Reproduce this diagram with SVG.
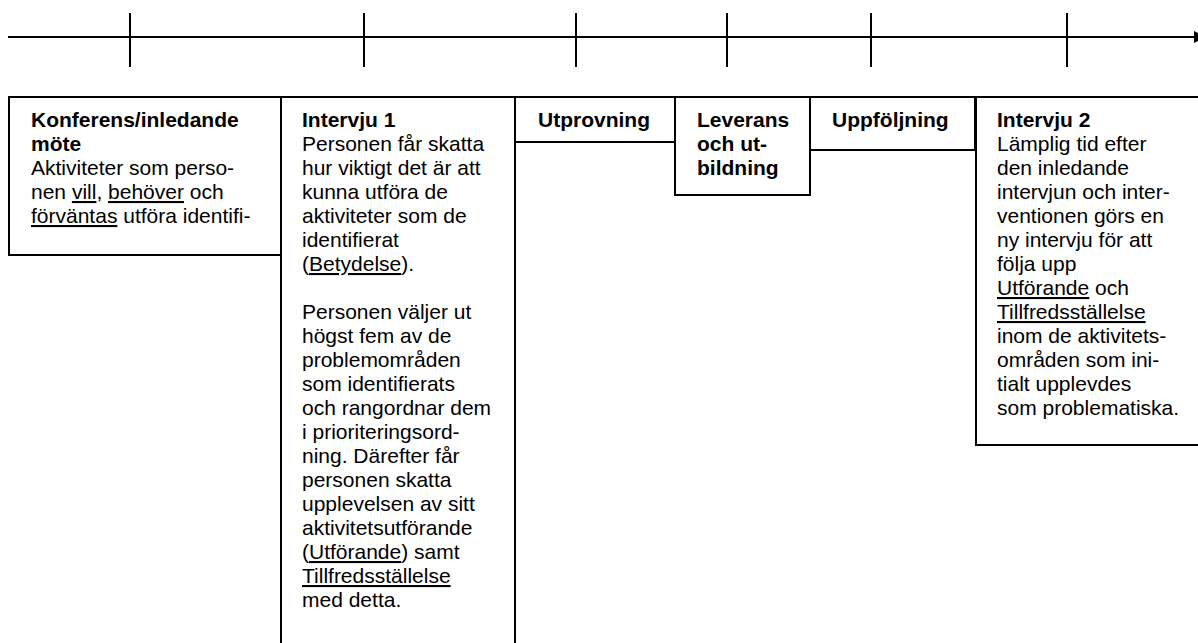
<svg xmlns="http://www.w3.org/2000/svg" width="1198" height="643" viewBox="0 0 1198 643">
<style>
.box{fill:#fff;stroke:#000;stroke-width:2}
.ax{stroke:#000;stroke-width:2;fill:none}
text{font-family:"Liberation Sans",Arial,sans-serif;font-size:21px;fill:#000}
.b{font-weight:bold}
.u{text-decoration:underline}
</style>
<rect width="1198" height="643" fill="#fff"/>
<g id="connectors">
<line class="ax" x1="8" y1="37" x2="1195" y2="37"/>
<polygon points="1194,31 1194,43 1206,37" fill="#000"/>
<line class="ax" x1="130" y1="13" x2="130" y2="67"/>
<line class="ax" x1="364" y1="13" x2="364" y2="67"/>
<line class="ax" x1="576" y1="13" x2="576" y2="67"/>
<line class="ax" x1="727" y1="13" x2="727" y2="67"/>
<line class="ax" x1="871" y1="13" x2="871" y2="67"/>
<line class="ax" x1="1067" y1="13" x2="1067" y2="67"/>
</g>
<g id="konferens">
<rect class="box" x="9" y="97" width="272" height="158"/>
<text>
<tspan class="b" x="31" y="127">Konferens/inledande</tspan>
<tspan class="b" x="31" y="151">möte</tspan>
<tspan x="31" y="175">Aktiviteter som perso-</tspan>
<tspan x="31" y="199">nen <tspan class="u">vill</tspan>, <tspan class="u">behöver</tspan> och</tspan>
<tspan x="31" y="223"><tspan class="u">förväntas</tspan> utföra identifi-</tspan>
</text>
</g>
<g id="intervju1">
<rect class="box" x="281" y="97" width="234" height="570"/>
<text>
<tspan class="b" x="302" y="127">Intervju 1</tspan>
<tspan x="302" y="151">Personen får skatta</tspan>
<tspan x="302" y="175">hur viktigt det är att</tspan>
<tspan x="302" y="199">kunna utföra de</tspan>
<tspan x="302" y="223">aktiviteter som de</tspan>
<tspan x="302" y="247">identifierat</tspan>
<tspan x="302" y="271">(<tspan class="u">Betydelse</tspan>).</tspan>
<tspan x="302" y="319">Personen väljer ut</tspan>
<tspan x="302" y="343">högst fem av de</tspan>
<tspan x="302" y="367">problemområden</tspan>
<tspan x="302" y="391">som identifierats</tspan>
<tspan x="302" y="415">och rangordnar dem</tspan>
<tspan x="302" y="439">i prioriteringsord-</tspan>
<tspan x="302" y="463">ning. Därefter får</tspan>
<tspan x="302" y="487">personen skatta</tspan>
<tspan x="302" y="511">upplevelsen av sitt</tspan>
<tspan x="302" y="535">aktivitetsutförande</tspan>
<tspan x="302" y="559">(<tspan class="u">Utförande</tspan>) samt</tspan>
<tspan x="302" y="583"><tspan class="u">Tillfredsställelse</tspan></tspan>
<tspan x="302" y="607">med detta.</tspan>
</text>
</g>
<g id="utprovning">
<rect class="box" x="515" y="97" width="160" height="45"/>
<text class="b" x="538" y="127">Utprovning</text>
</g>
<g id="leverans">
<rect class="box" x="675" y="97" width="135" height="98"/>
<text class="b">
<tspan x="697" y="127">Leverans</tspan>
<tspan x="697" y="151">och ut-</tspan>
<tspan x="697" y="175">bildning</tspan>
</text>
</g>
<g id="uppfoljning">
<rect class="box" x="810" y="97" width="165" height="53"/>
<text class="b" x="832" y="127">Uppföljning</text>
</g>
<g id="intervju2">
<rect class="box" x="976" y="97" width="240" height="348"/>
<text>
<tspan class="b" x="997" y="127">Intervju 2</tspan>
<tspan x="997" y="151">Lämplig tid efter</tspan>
<tspan x="997" y="175">den inledande</tspan>
<tspan x="997" y="199">intervjun och inter-</tspan>
<tspan x="997" y="223">ventionen görs en</tspan>
<tspan x="997" y="247">ny intervju för att</tspan>
<tspan x="997" y="271">följa upp</tspan>
<tspan x="997" y="295"><tspan class="u">Utförande</tspan> och</tspan>
<tspan x="997" y="319"><tspan class="u">Tillfredsställelse</tspan></tspan>
<tspan x="997" y="343">inom de aktivitets-</tspan>
<tspan x="997" y="367">områden som ini-</tspan>
<tspan x="997" y="391">tialt upplevdes</tspan>
<tspan x="997" y="415">som problematiska.</tspan>
</text>
</g>
</svg>
